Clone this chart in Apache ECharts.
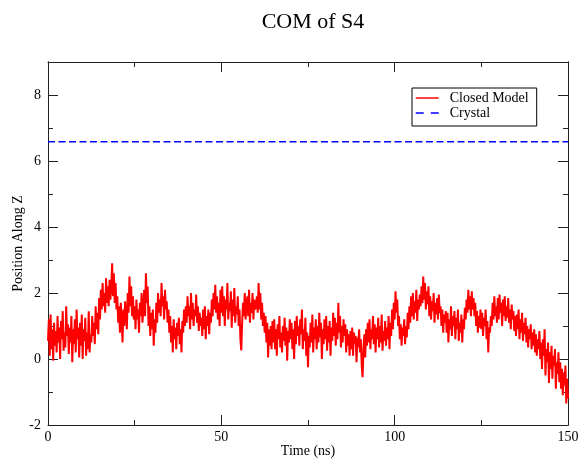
<!DOCTYPE html>
<html>
<head>
<meta charset="utf-8">
<script src="https://cdn.jsdelivr.net/npm/echarts@6/dist/echarts.min.js"></script>
<style>
  html, body { margin: 0; padding: 0; background: #fff; }
  #chart { width: 580px; height: 459px; }
</style>
</head>
<body>
<div id="chart"></div>
<script>
// Sampling step of the trajectory (ns)
const timeStep = 0.25;

// Centre-of-mass position of S4 along Z for the closed model, one value per step
const closedModel = [
  0.55, 1.2, 0.1, 1.35, 0.3, 0.9, -0.05, 1.1, 0.4, 0.85,
  0.2, 1.3, 0.5, 0.95, 0.0, 1.15, 0.6, 1.45, 0.25, 0.8,
  0.35, 1.6, 0.7, 1.05, 0.15, 0.95, 0.5, 1.3, -0.1, 0.9,
  0.45, 1.2, 0.2, 1.5, 0.6, 0.95, 0.05, 1.1, 0.4, 1.35,
  0.0, 0.9, 0.55, 1.25, 0.1, 0.8, 0.3, 1.45, 0.2, 0.75,
  0.5, 1.3, 0.7, 1.1, 0.45, 1.6, 0.9, 1.4, 0.75, 1.85,
  1.2, 2.1, 1.5, 2.3, 1.6, 2.0, 1.4, 2.45, 1.7, 2.2,
  1.6, 2.4, 1.8, 2.2, 2.9, 1.9, 2.6, 1.7, 2.3, 1.5,
  1.9, 1.1, 1.6, 0.8, 1.7, 1.2, 0.5, 1.5, 1.0, 1.75,
  1.3, 0.9, 2.0, 1.4, 2.5, 1.6, 2.2, 1.3, 1.9, 1.2,
  1.6, 0.9, 1.8, 1.2, 1.5, 0.8, 1.7, 1.3, 2.0, 1.1,
  1.5, 2.1, 1.3, 2.6, 1.7, 2.2, 1.0, 1.6, 0.7, 1.4,
  0.9, 1.5, 0.4, 1.2, 0.8, 1.7, 1.1, 2.0, 1.4, 1.8,
  1.3, 2.3, 1.6, 1.9, 1.2, 2.1, 1.5, 1.75, 1.1, 1.5,
  0.8, 1.3, 0.5, 1.0, 0.2, 1.2, 0.6, 0.95, 0.3, 1.1,
  0.7, 1.25, 0.45, 0.9, 0.2, 1.15, 0.8, 1.5, 1.0, 1.6,
  1.1, 1.9, 1.3, 1.6, 0.9, 2.0, 1.2, 1.7, 1.0, 1.5,
  1.3, 1.95, 1.1, 1.6, 0.85, 1.4, 1.0, 1.25, 0.7, 1.5,
  0.9, 1.6, 0.6, 1.3, 1.0, 1.5, 0.75, 1.4, 1.1, 1.8,
  1.3, 2.0, 1.5, 2.25, 1.4, 1.9, 1.2, 1.7, 1.0, 2.1,
  1.4, 2.2, 1.3, 1.9, 1.0, 1.8, 1.5, 2.3, 1.2, 1.7,
  1.45, 2.05, 0.95, 1.8, 1.3, 2.15, 1.1, 1.6, 1.35, 1.9,
  1.0, 1.5, 0.6, 0.26, 1.1, 1.7, 1.3, 2.0, 1.2, 1.6,
  1.9, 1.3, 2.1, 1.1, 1.7, 1.4, 2.0, 1.2, 1.8, 1.5,
  1.6, 1.9, 1.4, 2.3, 1.5, 2.0, 1.2, 1.7, 1.0, 1.4,
  0.8, 1.3, 0.5, 1.1, 0.05, 0.9, 0.4, 1.0, 0.3, 1.15,
  0.5, 1.2, 0.3, 0.9, 0.1, 1.05, 0.6, 1.3, 0.35, 0.8,
  0.2, 1.0, 0.55, 1.25, 0.4, 0.95, -0.05, 0.85, 0.5, 1.2,
  0.6, 1.1, 0.3, 0.9, 0.0, 1.15, 0.45, 1.3, 0.7, 1.0,
  0.4, 1.2, 0.75, 1.5, 0.3, 0.9, 0.55, 1.25, 0.1, 0.8,
  -0.25, 0.7, 0.35, 1.1, 0.5, 1.35, 0.2, 0.95, 0.6, 1.2,
  0.3, 1.0, 0.5, 1.4, 0.65, 1.1, 0.0, 0.9, 0.45, 1.2,
  0.6, 1.3, 0.25, 1.0, 0.5, 1.15, 0.1, 0.95, 0.55, 1.4,
  0.7, 1.25, 0.4, 1.1, 0.6, 1.7, 0.8, 1.3, 0.35, 1.0,
  0.5, 1.2, 0.7, 1.05, 0.2, 0.9, 0.4, 0.75, 0.1, 0.85,
  0.3, 0.95, 0.1, 0.8, 0.45, 0.7, -0.1, 0.65, 0.35, 0.9,
  0.2, 0.6, -0.2, -0.55, 0.3, 0.75, 0.05, 0.9, 0.4, 1.1,
  0.5, 1.2, 0.3, 0.9, 0.6, 1.3, 0.45, 1.05, 0.2, 0.95,
  0.6, 1.25, 0.35, 1.0, 0.5, 1.35, 0.25, 0.85, 0.55, 1.15,
  0.4, 0.95, 0.6, 1.3, 0.3, 1.1, 0.7, 1.5, 0.9, 1.7,
  1.2, 2.05, 1.4, 1.8, 1.0, 1.3, 0.6, 1.05, 0.4, 0.95,
  0.7, 1.2, 0.45, 1.0, 0.65, 1.4, 0.9, 1.6, 1.1, 1.9,
  1.3, 2.0, 1.2, 1.75, 1.4, 2.1, 1.15, 1.8, 1.5, 1.95,
  1.6, 2.2, 1.7, 2.5, 1.8, 2.3, 1.5, 2.05, 1.65, 2.2,
  1.3, 1.9, 1.2, 1.75, 1.45, 2.0, 1.1, 1.7, 1.35, 1.85,
  1.2, 1.95, 1.4, 1.6, 1.0, 1.5, 0.8, 1.35, 1.1, 1.45,
  0.8, 1.4, 0.5, 1.2, 0.9, 1.6, 0.7, 1.3, 1.0, 1.45,
  0.6, 1.25, 0.9, 1.5, 0.55, 1.1, 0.8, 1.35, 0.5, 1.2,
  0.9, 1.55, 1.2, 1.8, 1.4, 2.1, 1.5, 1.9, 1.3, 2.05,
  1.5, 1.85, 1.3, 1.7, 1.0, 1.45, 0.8, 1.3, 0.95, 1.5,
  0.9, 1.4, 0.7, 1.25, 1.0, 1.5, 0.6, 1.15, 0.2, 0.95,
  0.8, 1.3, 1.0, 1.7, 1.2, 1.9, 1.3, 1.6, 1.1, 1.85,
  1.2, 1.95, 1.4, 1.7, 1.0, 1.8, 1.3, 1.9, 1.15, 1.6,
  1.25, 1.85, 1.1, 1.5, 0.9, 1.65, 1.2, 1.45, 0.85, 1.3,
  0.7, 1.35, 0.9, 1.5, 0.6, 1.2, 0.8, 1.4, 0.55, 1.1,
  0.75, 1.25, 0.5, 1.0, 0.35, 0.9, 0.6, 1.05, 0.3, 0.8,
  0.4, 0.9, 0.2, 0.75, 0.1, 0.6, 0.3, 0.85, 0.0, 0.5,
  -0.3, 0.6, 0.1, 0.9, -0.5, 0.3, -0.1, 0.5, -0.73, 0.2,
  -0.3, 0.4, -0.6, 0.1, -0.2, 0.3, -0.9, -0.1, -0.45, 0.2,
  -0.7, -0.1, -0.9, -0.3, -1.1, -0.4, -0.8, -0.2, -1.35, -0.6,
  -1.2
];

// Reference position in the crystal structure
const crystalZ = 6.58;
const timeRange = [0, 150];

// Axis ranges and tick spacing
const xMin = 0, xMax = 150, xMajor = 50;
const yMin = -2, yMax = 9, yMajor = 2, yMinor = 1;

const FONT = '"Liberation Serif", "DejaVu Serif", serif';
const FRAME = '#222';

const closedSeriesData = closedModel.map((v, i) => [i * timeStep, v]);
const crystalSeriesData = timeRange.map(t => [t, crystalZ]);

function xAxisCfg(position, showLabels) {
  return {
    type: 'value', position: position, min: xMin, max: xMax, interval: xMajor,
    name: showLabels ? 'Time (ns)' : '',
    nameLocation: 'middle', nameGap: 19, nameMoveOverlap: false,
    nameTextStyle: { fontFamily: FONT, fontSize: 14, color: '#000' },
    axisLine: { show: true, onZero: false, lineStyle: { color: FRAME, width: 1 } },
    axisTick: { show: true, inside: true, length: 10, lineStyle: { color: FRAME } },
    minorTick: { show: true, splitNumber: 2, length: 5, lineStyle: { color: FRAME } },
    axisLabel: { show: showLabels, margin: 5, fontFamily: FONT, fontSize: 14, color: '#000' },
    splitLine: { show: false }, minorSplitLine: { show: false }
  };
}

function yAxisCfg(position, interval, tickLen, showLabels, withName) {
  return {
    type: 'value', position: position, min: yMin, max: yMax, interval: interval,
    name: withName ? 'Position Along Z' : '',
    nameLocation: 'middle', nameGap: 23, nameRotate: 90, nameMoveOverlap: false,
    nameTextStyle: { fontFamily: FONT, fontSize: 14, color: '#000' },
    axisLine: { show: true, onZero: false, lineStyle: { color: FRAME, width: 1 } },
    axisTick: { show: true, inside: true, length: tickLen, lineStyle: { color: FRAME } },
    axisLabel: {
      show: showLabels, margin: 7, fontFamily: FONT, fontSize: 14, color: '#000',
      formatter: v => (v === yMax ? '' : String(v))
    },
    splitLine: { show: false }
  };
}

const chart = echarts.init(document.getElementById('chart'), null, { renderer: 'canvas' });

chart.setOption({
  animation: false,
  backgroundColor: '#fff',
  title: {
    text: 'COM of S4',
    left: 308, top: 6, textAlign: 'center',
    textStyle: { fontFamily: FONT, fontSize: 22, fontWeight: 'normal', color: '#000' }
  },
  legend: {
    orient: 'vertical',
    left: 412, top: 88,
    padding: [3, 8, 6, 3],
    itemWidth: 23, itemHeight: 14, itemGap: 1,
    borderColor: '#000', borderWidth: 1,
    itemStyle: { opacity: 0 },
    textStyle: { fontFamily: FONT, fontSize: 14, color: '#000', padding: [0, 0, 0, 6] },
    data: [
      { name: 'Closed Model', itemStyle: { opacity: 0 }, lineStyle: { color: '#ff0000', width: 1.5 } },
      { name: 'Crystal', itemStyle: { opacity: 0 }, lineStyle: { color: '#0000ff', width: 1.5, type: [8, 7] } }
    ]
  },
  grid: { left: 48, right: 12, top: 62, bottom: 34, containLabel: false, outerBoundsMode: 'none' },
  xAxis: [xAxisCfg('bottom', true), xAxisCfg('top', false)],
  yAxis: [
    yAxisCfg('left', yMajor, 10, true, true),
    yAxisCfg('left', yMinor, 5, false, false),
    yAxisCfg('right', yMajor, 10, false, false),
    yAxisCfg('right', yMinor, 5, false, false)
  ],
  series: [
    {
      name: 'Closed Model', type: 'line', xAxisIndex: 0, yAxisIndex: 0,
      data: closedSeriesData, symbol: 'none', sampling: null,
      lineStyle: { color: '#ff0000', width: 2 }, itemStyle: { color: '#ff0000' },
      z: 3
    },
    {
      name: 'Crystal', type: 'line', xAxisIndex: 0, yAxisIndex: 0,
      data: crystalSeriesData, symbol: 'none',
      lineStyle: { color: '#0000ff', width: 1.5, type: [7, 3.5] }, itemStyle: { color: '#0000ff' },
      z: 2
    }
  ]
});
</script>
</body>
</html>
